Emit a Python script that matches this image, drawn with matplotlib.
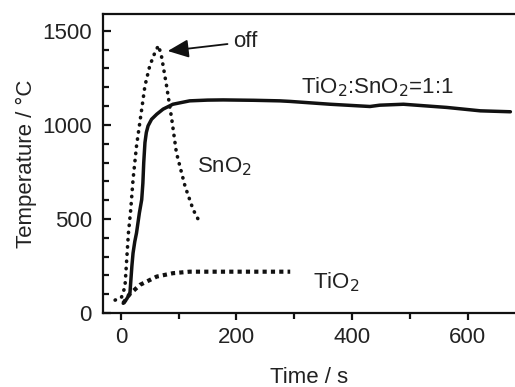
import numpy as np
import matplotlib
matplotlib.use("Agg")
import matplotlib.pyplot as plt
from matplotlib.ticker import MultipleLocator

plt.rcParams["font.family"] = ["Liberation Sans", "DejaVu Sans"]

# TiO2:SnO2 = 1:1 (solid)
mix_t = [4, 10, 15.6, 19, 21, 24, 27, 32, 36, 38, 39.5, 41.6, 44, 47, 53, 62,
         73, 90, 119, 150, 177, 230, 275, 293, 362, 431, 448, 489, 564, 622,
         674]
mix_T = [52, 75, 105, 250, 319, 380, 426, 533, 603, 690, 800, 906, 960, 995,
         1030, 1057, 1084, 1110, 1128, 1132, 1133, 1131, 1128, 1125, 1110,
         1098, 1105, 1110, 1093, 1075, 1070]

# SnO2 (round dots)
sno2_t = [-10, 1, 7, 10, 13, 17, 21, 27, 36, 41.6, 50, 59, 65, 70, 79, 88, 96,
          111, 125, 138.5]
sno2_T = [69, 84, 140, 283, 425, 550, 710, 888, 1084, 1208, 1315, 1386, 1422,
          1369, 1208, 1030, 853, 674, 550, 470]

# TiO2 (square dots)
tio2_t = [4, 15, 33, 62, 90, 119, 200, 293]
tio2_T = [52, 100, 150, 194, 212, 220, 220, 220]

fs = 16
fig = plt.figure(figsize=(5.15, 3.87), dpi=100)
ax = fig.add_axes([0.2, 0.191, 0.8, 0.773])

ax.plot(mix_t, mix_T, color="#111111", lw=2.5, solid_capstyle="round",
        solid_joinstyle="round")
ax.plot(sno2_t, sno2_T, color="#111111", lw=2.6, linestyle=(0, (0.1, 1.9)),
        dash_capstyle="round")
ax.plot(tio2_t, tio2_T, color="#111111", lw=3.0, linestyle=(0, (1, 1)))

ax.set_xlim(-31, 682)
ax.set_ylim(0, 1590)

ax.xaxis.set_major_locator(MultipleLocator(200))
ax.xaxis.set_minor_locator(MultipleLocator(100))
ax.yaxis.set_major_locator(MultipleLocator(500))
ax.yaxis.set_minor_locator(MultipleLocator(100))

ax.spines["right"].set_visible(False)
for s in ("left", "bottom", "top"):
    ax.spines[s].set_linewidth(1.6)
    ax.spines[s].set_color("#111111")

ax.tick_params(axis="x", which="both", direction="out", width=1.6,
               color="#111111", labelsize=fs, labelcolor="#222222")
ax.tick_params(axis="x", which="major", length=5, pad=5)
ax.tick_params(axis="x", which="minor", length=4)
ax.tick_params(axis="y", which="both", direction="in", width=1.6,
               color="#111111", labelsize=fs, labelcolor="#222222")
ax.tick_params(axis="y", which="major", length=6, pad=8)
ax.tick_params(axis="y", which="minor", length=4)

ax.set_xlabel("Time / s", fontsize=fs, color="#222222", labelpad=14)
ax.set_ylabel("Temperature / \u00b0C", fontsize=fs, color="#222222", labelpad=4)

ax.annotate("off", xy=(81, 1393), xytext=(194, 1441), fontsize=fs,
            color="#222222", va="center", ha="left",
            arrowprops=dict(arrowstyle="-|>,head_length=0.8,head_width=0.35",
                            color="#111111", lw=1.3, shrinkA=2, shrinkB=0))
ax.text(180, 780, "SnO$_2$", fontsize=fs, color="#222222", ha="center",
        va="center")
ax.text(312, 1200, "TiO$_2$:SnO$_2$=1:1", fontsize=fs, color="#222222",
        ha="left", va="center")
ax.text(332, 165, "TiO$_2$", fontsize=fs, color="#222222", ha="left",
        va="center")

fig.savefig("out.png", dpi=100)
